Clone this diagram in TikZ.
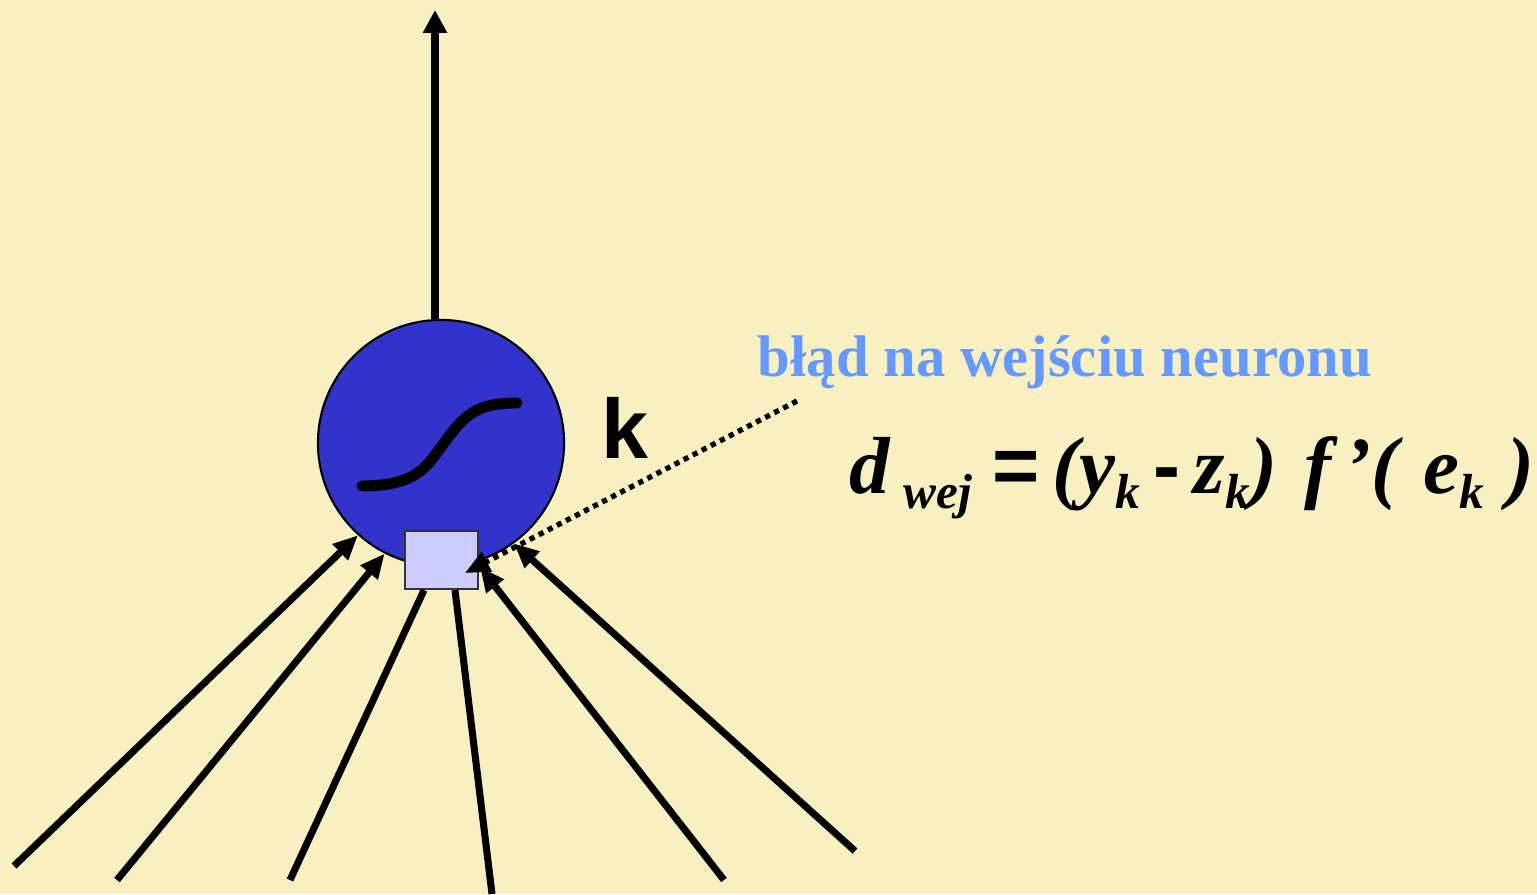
\documentclass[tikz,border=0pt]{standalone}
\usepackage{fontspec}
\setmainfont{Liberation Serif}
\setsansfont{Liberation Sans}
\usetikzlibrary{positioning,arrows.meta,calc}
\definecolor{bgyellow}{RGB}{248,240,192}
\definecolor{cellblue}{RGB}{51,51,204}
\definecolor{boxlav}{RGB}{204,204,255}
\definecolor{notecol}{RGB}{102,153,255}
\newcommand{\sbk}[1]{\raisebox{-4.3pt}{\fontsize{14}{14}\selectfont #1}}

\begin{document}
\begin{tikzpicture}[x=0.01cm, y=-0.01cm,
    wire/.style={line width=2pt, -{Triangle[length=7pt,width=6pt]}},
    plainwire/.style={line width=2pt}]
    \fill[bgyellow] (0,0) rectangle (1537,894);
    \useasboundingbox (0,0) rectangle (1537,894);
    % neuron and its input box
    \node[circle, draw=black, line width=0.6pt, fill=cellblue, minimum size=2.46cm, inner sep=0] (neuron) at (441,443) {};
    \node[draw=black!80, line width=0.6pt, fill=boxlav, minimum width=0.73cm, minimum height=0.58cm, inner sep=0] (errbox) at (441.5,560) {};
    \draw[line width=3.1pt, line cap=round] (362,486) .. controls (420,486) and (428,463) .. (442,446) .. controls (465,413) and (478,403) .. (517,403);
    % output
    \coordinate (out) at (435,10);
    \draw[line width=2pt, -{Triangle[length=6.5pt,width=6.5pt]}] (out |- neuron.north) -- (out);
    % inputs
    \coordinate (in1) at (14,866);
    \coordinate (in2) at (117,880);
    \coordinate (in3) at (290,880);
    \coordinate (in4) at (492,894);
    \coordinate (in5) at (724,880);
    \coordinate (in6) at (855,851);
    \coordinate (boxpt) at (480,567);
    \foreach \s/\t in {in1/neuron.228.6, in2/neuron.243.4, in5/boxpt, in6/neuron.306.9} {
        \draw[wire] (\s) -- (\t);
    }
    \draw[plainwire] (in3) -- ($(errbox.south)+(-17.5,0)$);
    \draw[plainwire] (in4) -- ($(errbox.south)+(13.5,0)$);
    % labels
    \node[anchor=base west, inner sep=0, font=\sffamily\bfseries\fontsize{24}{24}\selectfont] (klabel) at (601,458) {k};
    \node[anchor=base west, inner sep=0, text=notecol, font=\bfseries\fontsize{16.7}{16.7}\selectfont] (note) at (757,376) {błąd na wejściu neuronu};
    \coordinate (notept) at (797,401);
    \coordinate (errpt) at (465,573);
    \draw[line width=1.5pt, dash pattern=on 1.5pt off 1.4pt, -{Triangle[length=7pt,width=6pt]}] (notept) -- (errpt);
    \node[anchor=base west, inner sep=0, font=\bfseries\itshape\fontsize{23}{23}\selectfont] (formula) at (849,493)
        {d\,\sbk{wej} {\sffamily\upshape =} \kern-2pt(y\sbk{k}\,{\sffamily\upshape -}\,z\sbk{k}) \kern2pt f\,’(\kern7pt e\sbk{k}\kern6.7pt)};
\end{tikzpicture}
\end{document}
